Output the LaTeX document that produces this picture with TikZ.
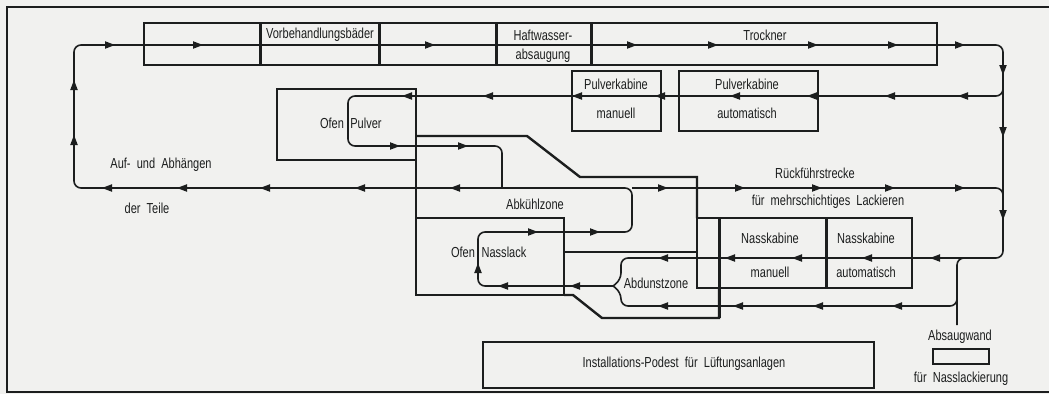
\documentclass[tikz,border=0pt]{standalone}
\usepackage{fontspec}
\setmainfont{Liberation Sans}[FakeStretch=0.76]
\definecolor{ink}{RGB}{28,30,30}
\definecolor{paper}{RGB}{241,241,239}
\newcommand\arrR[2]{\pic at (#1,#2) {ah};}
\newcommand\arrL[2]{\pic[rotate=180] at (#1,#2) {ah};}
\newcommand\arrU[2]{\pic[rotate=90] at (#1,#2) {ah};}
\newcommand\arrD[2]{\pic[rotate=-90] at (#1,#2) {ah};}
\begin{document}
\begin{tikzpicture}[x=1pt,y=-1pt,
  box/.style={draw=ink, line width=2.4pt, inner sep=0pt},
  wall/.style={draw=ink, line width=2.4pt},
  divider/.style={draw=ink, line width=3pt},
  frameline/.style={draw=ink, line width=2.2pt},
  conv/.style={draw=ink, line width=1.6pt, rounded corners=7pt},
  lbl/.style={font=\fontsize{14.5}{16}\selectfont, text=ink, inner sep=0pt},
  ah/.pic={\fill[ink] (5,0)--(-5,3.8)--(-5,-3.8)--cycle;}
]
\fill[paper] (0,0) rectangle (1049,394);
\useasboundingbox (0,0) rectangle (1049,394);
% frame
\draw[frameline] (1049,7) -- (7,7) -- (7,392) -- (1049,392);

% boxes
\node[box, minimum width=793pt, minimum height=42pt] (top) at (540.5,44) {};
\draw[divider] (260,23) -- (260,65);
\draw[divider] (379,23) -- (379,65);
\draw[divider] (496,23) -- (496,65);
\draw[divider] (591,23) -- (591,65);
\node[box, minimum width=89pt, minimum height=60pt] (pkm) at (616.5,101) {};
\node[box, minimum width=139pt, minimum height=60pt] (pka) at (748.5,101) {};
\node[box, minimum width=139pt, minimum height=71pt] (ofp) at (346.5,124.5) {};
\node[box, minimum width=148pt, minimum height=77pt] (ofn) at (490,256.5) {};
\node[box, minimum width=215pt, minimum height=70pt] (nk) at (804.5,253) {};
\draw[divider] (719,218) -- (719,318);
\draw[divider] (826,218) -- (826,288);
\node[box, minimum width=391pt, minimum height=46pt] (pod) at (678.5,365) {};
\node[box, minimum width=56pt, minimum height=15pt] (asw) at (961,356.5) {};

% oven outline
\draw[wall] (416,160) -- (416,218);
\draw[wall] (416,136) -- (527,136) -- (580,177) -- (697,177) -- (697,218);
\draw[wall] (564,252) -- (697,252);
\draw[wall] (564,295) -- (573,295) -- (602,318) -- (719,318) -- (719,288);

% conveyors
\draw[conv] (613,286) -- (478,286) -- (478,232) -- (632,232) -- (632,188) -- (74,188) -- (74,45) -- (1003,45) -- (1003,258) -- (621,258) -- (621,280) -- (613,286);
\draw[conv] (1003,84) -- (1003,96) -- (348,96) -- (348,146) -- (502,146) -- (502,188);
\draw[conv] (632,188) -- (1003,188) -- (1003,202);
\draw[conv] (957,325) -- (957,258) -- (972,258);
\draw[conv] (957,290) -- (957,306) -- (621,306) -- (621,292) -- (613,286);

% arrowheads
\arrR{110}{45}\arrR{198}{45}\arrR{430}{45}\arrR{632}{45}\arrR{713}{45}\arrR{813}{45}\arrR{893}{45}\arrR{960}{45}
\arrD{1003}{70}\arrD{1003}{132}\arrD{1003}{215}
\arrL{963}{96}\arrL{890}{96}\arrL{812}{96}\arrL{735}{96}\arrL{660}{96}\arrL{577}{96}\arrL{488}{96}\arrL{407}{96}
\arrR{395}{146}\arrR{463}{146}
\arrL{107}{188}\arrL{182}{188}\arrL{265}{188}\arrL{360}{188}\arrL{455}{188}
\arrR{663}{188}\arrR{740}{188}\arrR{817}{188}\arrR{890}{188}\arrR{960}{188}
\arrU{74}{140}\arrU{74}{85}
\arrR{533}{232}\arrR{595}{232}
\arrU{478}{268}
\arrL{503}{286}\arrL{575}{286}
\arrL{663}{258}\arrL{730}{258}\arrL{797}{258}\arrL{867}{258}\arrL{935}{258}
\arrL{663}{306}\arrL{738}{306}\arrL{818}{306}\arrL{897}{306}

% labels
\node[lbl] (t1) at (320,35) {Vorbehandlungsbäder};
\node[lbl] (t2) at (543,35) {Haftwasser-};
\node[lbl] (t3) at (543,56) {absaugung};
\node[lbl] (t4) at (765,35) {Trockner};
\node[lbl] (t5) at (616,84) {Pulverkabine};
\node[lbl] (t6) at (616,113) {manuell};
\node[lbl] (t7) at (747,84) {Pulverkabine};
\node[lbl] (t8) at (747,113) {automatisch};
\node[lbl] (t9) at (332,123) {Ofen};
\node[lbl] (t10) at (366,123) {Pulver};
\node[lbl] (t11) at (161,165) {Auf-\ \ und\ \ Abhängen};
\node[lbl] (t12) at (147,208) {der\ \ Teile};
\node[lbl] (t13) at (815,173) {Rückführstrecke};
\node[lbl] (t14) at (828,202) {für\ \ mehrschichtiges\ \ Lackieren};
\node[lbl] (t15) at (535,204) {Abkühlzone};
\node[lbl] (t16) at (463,252) {Ofen};
\node[lbl] (t17) at (504,252) {Nasslack};
\node[lbl] (t18) at (656,283) {Abdunstzone};
\node[lbl] (t19) at (770,238) {Nasskabine};
\node[lbl] (t20) at (770,272) {manuell};
\node[lbl] (t21) at (866,238) {Nasskabine};
\node[lbl] (t22) at (866,272) {automatisch};
\node[lbl] (t23) at (684,364) {Installations-Podest\ \ für\ \ Lüftungsanlagen};
\node[lbl] (t24) at (960,337) {Absaugwand};
\node[lbl] (t25) at (961,379) {für\ \ Nasslackierung};
\end{tikzpicture}
\end{document}
